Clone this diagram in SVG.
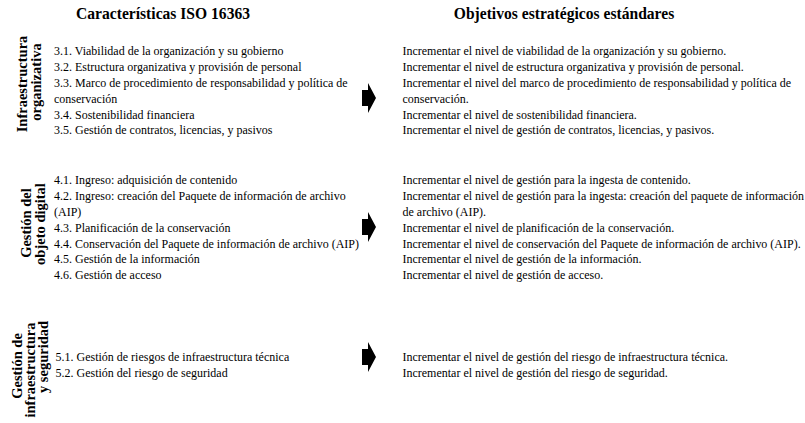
<svg xmlns="http://www.w3.org/2000/svg" width="805" height="423" viewBox="0 0 805 423">
<style>
  .t { font-family: "Liberation Serif", "Times New Roman", serif; font-size: 13px; fill: #000; }
  .h { font-family: "Liberation Serif", "Times New Roman", serif; font-size: 17px; font-weight: bold; fill: #000; text-anchor: middle; }
  .lab { font-family: "Liberation Serif", "Times New Roman", serif; font-size: 14.5px; font-weight: bold; fill: #000; text-anchor: middle; }
  .arrow { fill: #000; stroke: none; }
</style>
<defs>
  <polygon id="blockArrow" points="-7,-8 -1,-8 -1,-15 7,0 -1,15 -1,8 -7,8"/>
</defs>
<rect width="805" height="423" fill="#fff"/>

<g id="headers" transform="scale(0.918,1)">
  <text class="h" x="177.6" y="19.5">Características ISO 16363</text>
  <text class="h" x="614.4" y="19.5">Objetivos estratégicos estándares</text>
</g>

<g id="label-infraestructura">
  <text class="lab" transform="translate(26.5,84) rotate(-90)">Infraestructura</text>
  <text class="lab" transform="translate(40.5,82) rotate(-90)">organizativa</text>
</g>

<g id="label-objeto-digital">
  <text class="lab" transform="translate(31,223) rotate(-90)">Gestión del</text>
  <text class="lab" transform="translate(45,224) rotate(-90)">objeto digital</text>
</g>

<g id="label-seguridad">
  <text class="lab" transform="translate(21.5,366) rotate(-90)">Gestión de</text>
  <text class="lab" transform="translate(35,370) rotate(-90)">infraestructura</text>
  <text class="lab" transform="translate(48,357) rotate(-90)">y seguridad</text>
</g>

<g id="iso-3" transform="translate(54,0) scale(0.923,1)">
  <text class="t" x="0" y="55">3.1. Viabilidad de la organización y su gobierno</text>
  <text class="t" x="0" y="70.9">3.2. Estructura organizativa y provisión de personal</text>
  <text class="t" x="0" y="86.8">3.3. Marco de procedimiento de responsabilidad y política de</text>
  <text class="t" x="0" y="102.7">conservación</text>
  <text class="t" x="0" y="118.6">3.4. Sostenibilidad financiera</text>
  <text class="t" x="0" y="134.5">3.5. Gestión de contratos, licencias, y pasivos</text>
</g>

<g id="obj-3" transform="translate(402.5,0) scale(0.923,1)">
  <text class="t" x="0" y="55">Incrementar el nivel de viabilidad de la organización y su gobierno.</text>
  <text class="t" x="0" y="70.9">Incrementar el nivel de estructura organizativa y provisión de personal.</text>
  <text class="t" x="0" y="86.8">Incrementar el nivel del marco de procedimiento de responsabilidad y política de</text>
  <text class="t" x="0" y="102.7">conservación.</text>
  <text class="t" x="0" y="118.6">Incrementar el nivel de sostenibilidad financiera.</text>
  <text class="t" x="0" y="134.5">Incrementar el nivel de gestión de contratos, licencias, y pasivos.</text>
</g>

<g id="iso-4" transform="translate(54,0) scale(0.923,1)">
  <text class="t" x="0" y="184">4.1. Ingreso: adquisición de contenido</text>
  <text class="t" x="0" y="199.9">4.2. Ingreso: creación del Paquete de información de archivo</text>
  <text class="t" x="0" y="215.8">(AIP)</text>
  <text class="t" x="0" y="231.7">4.3. Planificación de la conservación</text>
  <text class="t" x="0" y="247.6">4.4. Conservación del Paquete de información de archivo (AIP)</text>
  <text class="t" x="0" y="263.5">4.5. Gestión de la información</text>
  <text class="t" x="0" y="279.4">4.6. Gestión de acceso</text>
</g>

<g id="obj-4" transform="translate(402.5,0) scale(0.923,1)">
  <text class="t" x="0" y="184">Incrementar el nivel de gestión para la ingesta de contenido.</text>
  <text class="t" x="0" y="199.9">Incrementar el nivel de gestión para la ingesta: creación del paquete de información</text>
  <text class="t" x="0" y="215.8">de archivo (AIP).</text>
  <text class="t" x="0" y="231.7">Incrementar el nivel de planificación de la conservación.</text>
  <text class="t" x="0" y="247.6">Incrementar el nivel de conservación del Paquete de información de archivo (AIP).</text>
  <text class="t" x="0" y="263.5">Incrementar el nivel de gestión de la información.</text>
  <text class="t" x="0" y="279.4">Incrementar el nivel de gestión de acceso.</text>
</g>

<g id="iso-5" transform="translate(55.5,0) scale(0.923,1)">
  <text class="t" x="0" y="361">5.1. Gestión de riesgos de infraestructura técnica</text>
  <text class="t" x="0" y="377">5.2. Gestión del riesgo de seguridad</text>
</g>

<g id="obj-5" transform="translate(402.5,0) scale(0.923,1)">
  <text class="t" x="0" y="361">Incrementar el nivel de gestión del riesgo de infraestructura técnica.</text>
  <text class="t" x="0" y="377">Incrementar el nivel de gestión del riesgo de seguridad.</text>
</g>

<g id="connectors">
  <use href="#blockArrow" class="arrow" transform="translate(369,98)"/>
  <use href="#blockArrow" class="arrow" transform="translate(369,227)"/>
  <use href="#blockArrow" class="arrow" transform="translate(369,357)"/>
</g>
</svg>
